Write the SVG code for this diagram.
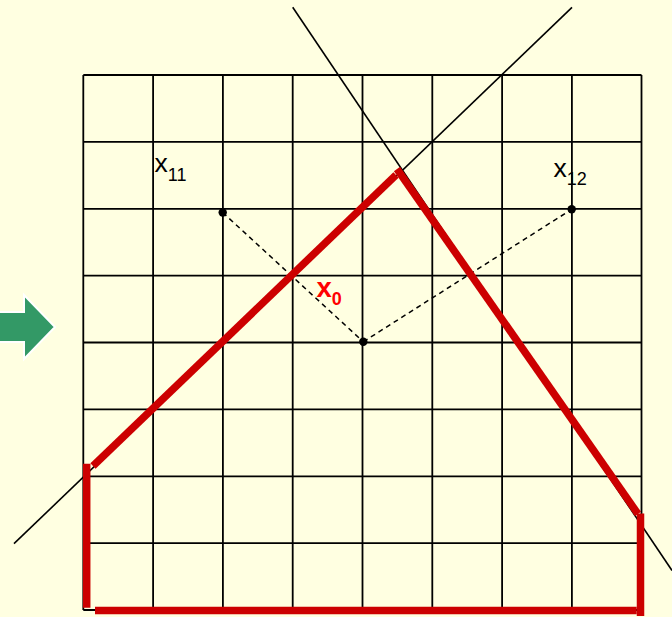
<svg xmlns="http://www.w3.org/2000/svg" width="672" height="617" viewBox="0 0 672 617">
<style>
.grid{stroke:#000;stroke-width:1.8;fill:none}
.ln{stroke:#000;stroke-width:1.6;fill:none}
.dash{stroke:#000;stroke-width:1.5;fill:none;stroke-dasharray:5,4}
.red{stroke:#CC0000;stroke-width:7.5;fill:none;stroke-linecap:butt}
.lbl{font-family:"Liberation Sans",Arial,sans-serif;font-size:26.5px;fill:#000}
.sub{font-size:18px}
.lx0{font-family:"Liberation Sans",Arial,sans-serif;font-size:27.5px;font-weight:bold;fill:#FF0000}
</style>
<rect x="0" y="0" width="672" height="617" fill="#FFFFE1"/>
<g id="arrow">
<polygon points="-5,312 24,312 24,295 55,327 24,359 24,342 -5,342" fill="#339966" stroke="#FFFFFF" stroke-width="2"/>
</g>
<g id="grid" class="grid">
<path d="M83.3,75V610 M153.1,75V610 M222.9,75V610 M292.7,75V610 M362.5,75V610 M432.3,75V610 M502.1,75V610 M571.9,75V610 M641.5,75V610"/>
<path d="M83.3,75H641.5 M83.3,141.9H641.5 M83.3,208.8H641.5 M83.3,275.6H641.5 M83.3,342.5H641.5 M83.3,409.4H641.5 M83.3,476.3H641.5 M83.3,543.1H641.5 M83.3,610H641.5"/>
</g>
<g id="connectors">
<line class="ln" x1="292.7" y1="7.3" x2="672" y2="570.5"/>
<line class="ln" x1="14" y1="543.7" x2="572" y2="7.3"/>
<line class="dash" x1="222.7" y1="212.5" x2="363.3" y2="341.8"/>
<line class="dash" x1="363.3" y1="341.8" x2="571.7" y2="209.3"/>
</g>
<g id="polygon">
<line class="red" x1="93" y1="466" x2="396" y2="175"/>
<line class="red" x1="397" y1="169" x2="638" y2="514"/>
<line class="red" x1="640.5" y1="513.5" x2="640.5" y2="616"/>
<line class="red" x1="95" y1="610.5" x2="636.7" y2="610.5"/>
<line class="red" x1="86.7" y1="463.7" x2="86.7" y2="607.7"/>
</g>
<g id="x11">
<circle cx="222.7" cy="212.5" r="4.2" fill="#000"/>
<text class="lbl" x="154.5" y="171.7">x<tspan class="sub" dy="9">11</tspan></text>
</g>
<g id="x12">
<circle cx="571.7" cy="209.3" r="4.2" fill="#000"/>
<text class="lbl" x="553.5" y="176.7">x<tspan class="sub" dy="8.5">12</tspan></text>
</g>
<g id="x0">
<circle cx="363.3" cy="341.8" r="4.2" fill="#000"/>
<text class="lx0" x="316.5" y="296.7">x<tspan style="font-size:18px" dy="8.5">0</tspan></text>
</g>
</svg>
